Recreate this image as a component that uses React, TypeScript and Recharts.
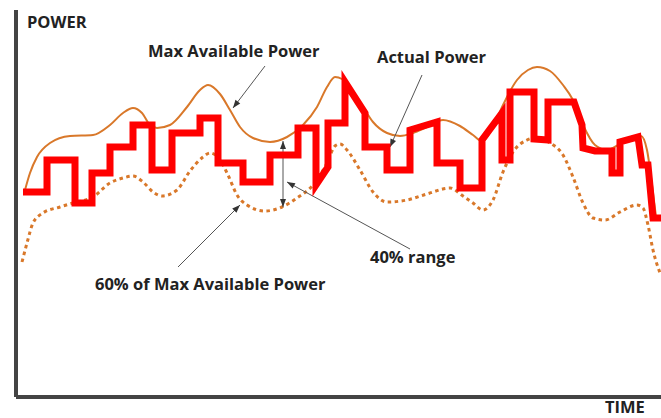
import React from 'react';
import { LineChart, Line, XAxis, YAxis, ReferenceLine } from 'recharts';

// time / power pairs (arbitrary units, origin at the axes corner)
const maxTime = [9, 14, 21, 34, 54, 77, 94, 107, 117, 126, 134, 141, 154, 171, 184, 192, 204, 214, 224, 237, 254, 271, 287, 301, 311, 319, 326, 334, 347, 357, 371, 384, 397, 411, 427, 444, 457, 466, 477, 487, 501, 512, 521, 534, 547, 557, 567, 579, 591, 604, 617, 625, 631, 636, 640];
const maxPower = [207, 224, 240, 254, 261, 262, 272, 284, 289, 284, 272, 269, 272, 290, 307, 312, 303, 287, 270, 259, 255, 260, 272, 290, 310, 320, 318, 309, 290, 275, 264, 261, 264, 270, 277, 271, 262, 256, 270, 292, 317, 327, 330, 326, 312, 297, 272, 252, 247, 253, 259, 261, 247, 212, 180];

const lowTime = [6, 11, 17, 27, 44, 57, 77, 94, 107, 117, 127, 137, 146, 161, 174, 187, 194, 204, 212, 221, 231, 249, 266, 281, 297, 311, 319, 324, 331, 344, 357, 371, 391, 411, 434, 447, 457, 467, 477, 487, 497, 511, 519, 534, 547, 557, 567, 577, 589, 604, 621, 627, 632, 637, 644];
const lowPower = [135, 154, 174, 184, 190, 194, 200, 214, 219, 221, 215, 205, 201, 207, 226, 240, 244, 237, 222, 202, 192, 186, 190, 199, 212, 234, 251, 253, 247, 227, 205, 195, 197, 203, 209, 201, 194, 187, 197, 225, 245, 257, 259, 254, 242, 220, 194, 179, 177, 185, 192, 189, 172, 147, 124];

const actualTime = [7, 31, 31, 59, 59, 76, 76, 94, 94, 117, 117, 136, 136, 156, 156, 184, 184, 202, 202, 227, 227, 254, 254, 282, 282, 300, 300, 312, 312, 329, 329, 349, 349, 371, 371, 394, 394, 421, 421, 444, 444, 466, 466, 486, 486, 494, 494, 518, 518, 532, 532, 558, 566, 567, 579, 596, 596, 604, 604, 622, 626, 632, 637, 645];
const actualPower = [205, 205, 237, 237, 194, 194, 224, 224, 250, 250, 272, 272, 227, 227, 264, 264, 279, 279, 234, 234, 215, 215, 242, 242, 269, 269, 212, 230, 274, 274, 315, 284, 250, 250, 227, 227, 267, 275, 234, 234, 209, 209, 257, 284, 237, 237, 305, 305, 258, 257, 295, 295, 272, 249, 246, 246, 224, 224, 255, 260, 232, 232, 179, 179];

const maxData = maxTime.map((t, i) => ({ t, p: maxPower[i] }));
const lowData = lowTime.map((t, i) => ({ t, p: lowPower[i] }));
const actualData = actualTime.map((t, i) => ({ t, p: actualPower[i] }));

const ORANGE = '#D9782A';
const GREY = '#555';

// thin callout line with arrowhead(s)
function Arrow(props: any) {
  const { x1, y1, x2, y2, both } = props;
  const head = (fx: number, fy: number, tx: number, ty: number) => {
    const a = Math.atan2(ty - fy, tx - fx);
    const len = 8;
    const w = 3;
    const bx = tx - len * Math.cos(a);
    const by = ty - len * Math.sin(a);
    const px = -Math.sin(a) * w;
    const py = Math.cos(a) * w;
    return <polygon points={`${tx},${ty} ${bx + px},${by + py} ${bx - px},${by - py}`} fill="#333" />;
  };
  return (
    <g>
      <line x1={x1} y1={y1} x2={x2} y2={y2} stroke={GREY} strokeWidth={1} />
      {head(x1, y1, x2, y2)}
      {both && head(x2, y2, x1, y1)}
    </g>
  );
}

const labelStyle: React.CSSProperties = {
  fontFamily: '"Open Sans", Lato, sans-serif',
  fontWeight: 700,
  fill: '#222',
};

export default function App() {
  return (
    <div style={{ position: 'absolute', left: 0, top: 0, width: 661, height: 418, background: '#fff' }}>
      <LineChart width={661} height={418} margin={{ top: 10, right: 0, left: 16, bottom: 21 }}>
        <XAxis type="number" dataKey="t" domain={[0, 645]} hide allowDataOverflow />
        <YAxis type="number" dataKey="p" domain={[0, 387]} hide allowDataOverflow />

        <Line data={lowData} dataKey="p" type="monotone" stroke={ORANGE} strokeWidth={3}
          strokeDasharray="3.5 3.5" dot={false} isAnimationActive={false} />
        <Line data={maxData} dataKey="p" type="monotone" stroke={ORANGE} strokeWidth={2}
          dot={false} isAnimationActive={false} />

        <ReferenceLine segment={[{ x: 249, y: 331 }, { x: 217, y: 289 }]} shape={(p: any) => <Arrow {...p} />} />
        <ReferenceLine segment={[{ x: 406, y: 322 }, { x: 374, y: 250 }]} shape={(p: any) => <Arrow {...p} />} />
        <ReferenceLine segment={[{ x: 162, y: 130 }, { x: 224, y: 192 }]} shape={(p: any) => <Arrow {...p} />} />
        <ReferenceLine segment={[{ x: 394, y: 148 }, { x: 271, y: 215 }]} shape={(p: any) => <Arrow {...p} />} />
        <ReferenceLine segment={[{ x: 267, y: 256 }, { x: 267, y: 190 }]} shape={(p: any) => <Arrow {...p} both />} />

        <Line data={actualData} dataKey="p" type="linear" stroke="#FF0000" strokeWidth={7}
          strokeLinejoin="miter" dot={false} isAnimationActive={false} />

        <ReferenceLine x={0} stroke="#444" strokeWidth={4} />
        <ReferenceLine y={0} stroke="#444" strokeWidth={4} />
      </LineChart>

      <svg width={661} height={418} style={{ position: 'absolute', left: 0, top: 0, pointerEvents: 'none' }}>
        <text x={27} y={28} fontSize={16.5} style={labelStyle}>POWER</text>
        <text x={148} y={57} fontSize={16.5} style={labelStyle}>Max Available Power</text>
        <text x={377} y={63} fontSize={16.5} style={labelStyle}>Actual Power</text>
        <text x={370} y={263} fontSize={16.5} style={labelStyle}>40% range</text>
        <text x={95} y={290} fontSize={16.5} style={labelStyle}>60% of Max Available Power</text>
        <text x={605} y={413} fontSize={16.5} style={labelStyle}>TIME</text>
      </svg>
    </div>
  );
}
